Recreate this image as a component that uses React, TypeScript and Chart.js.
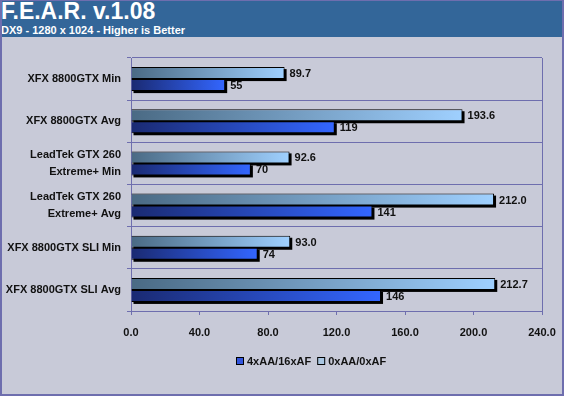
import React, { useEffect, useRef } from "react";
import { Chart, registerables } from "chart.js";

Chart.register(...registerables);

const categories: (string | string[])[] = [
  "XFX 8800GTX Min",
  "XFX 8800GTX Avg",
  ["LeadTek GTX 260", "Extreme+ Min"],
  ["LeadTek GTX 260", "Extreme+ Avg"],
  "XFX 8800GTX SLI Min",
  "XFX 8800GTX SLI Avg",
];
const seriesNoAA = [89.7, 193.6, 92.6, 212.0, 93.0, 212.7];
const seriesAA = [55, 119, 70, 141, 74, 146];
const seriesNames = ["0xAA/0xAF", "4xAA/16xAF"];
const xTicks = [0, 40, 80, 120, 160, 200, 240];

const TITLE = "F.E.A.R. v.1.08";
const SUBTITLE = "DX9 - 1280 x 1024 - Higher is Better";

const AXIS = "#6e6eae";
const BG = "#c8cad8";
const TEXT = "#111111";
const FONT_FAMILY = "'Liberation Sans', Arial, sans-serif";
const FONT_SIZE = 11;

const LIGHT_FROM = "#4a6a84";
const LIGHT_TO = "#9fd0ff";
const DARK_FROM = "#1a2a72";
const DARK_TO = "#3366ff";

function gradientFor(from: string, to: string, fallback: string) {
  return (ctx: any) => {
    const chart = ctx.chart;
    const xs = chart.scales && chart.scales.x;
    if (!xs || ctx.type !== "data" || typeof ctx.raw !== "number") return fallback;
    const start = xs.getPixelForValue(0);
    const end = xs.getPixelForValue(ctx.raw);
    if (!isFinite(start) || !isFinite(end) || end - start < 1) return fallback;
    const g = chart.ctx.createLinearGradient(start, 0, end, 0);
    g.addColorStop(0, from);
    g.addColorStop(1, to);
    return g;
  };
}

const shadowPlugin = {
  id: "barShadow",
  beforeDatasetsDraw(chart: any) {
    const ctx = chart.ctx;
    ctx.save();
    ctx.fillStyle = "#000";
    chart.data.datasets.forEach((_: any, di: number) => {
      const meta = chart.getDatasetMeta(di);
      meta.data.forEach((el: any) => {
        const p = el.getProps(["x", "y", "base", "height"], true);
        ctx.fillRect(p.base + 2, p.y - p.height / 2 + 2, p.x - p.base, p.height);
      });
    });
    ctx.restore();
  },
};

const valueLabelPlugin = {
  id: "valueLabels",
  afterDatasetsDraw(chart: any) {
    const ctx = chart.ctx;
    ctx.save();
    ctx.font = `bold ${FONT_SIZE}px ${FONT_FAMILY}`;
    ctx.fillStyle = TEXT;
    ctx.textBaseline = "middle";
    ctx.textAlign = "left";
    chart.data.datasets.forEach((ds: any, di: number) => {
      const meta = chart.getDatasetMeta(di);
      meta.data.forEach((el: any, i: number) => {
        const v = ds.data[i];
        const txt = di === 0 ? v.toFixed(1) : String(v);
        const p = el.getProps(["x", "y"], true);
        ctx.fillText(txt, p.x + 5, p.y + 1);
      });
    });
    ctx.restore();
  },
};

const legendPlugin = {
  id: "customLegend",
  afterDraw(chart: any) {
    const ctx = chart.ctx;
    ctx.save();
    ctx.font = `bold ${FONT_SIZE}px ${FONT_FAMILY}`;
    ctx.textBaseline = "middle";
    const items = [
      { label: seriesNames[1], solid: "#3355dd" },
      { label: seriesNames[0], solid: "#a9c6e2" },
    ];
    const box = 8;
    const gap = 3;
    const itemGap = 6;
    const widths = items.map((it) => ctx.measureText(it.label).width);
    const total = items.length * (box + gap) + widths.reduce((a, b) => a + b, 0) + itemGap;
    const cx = 311;
    const cy = chart.chartArea.bottom + 50;
    let x = Math.round(cx - total / 2);
    items.forEach((it, i) => {
      ctx.fillStyle = it.solid;
      ctx.fillRect(x, cy - box / 2, box, box);
      ctx.strokeStyle = "#000";
      ctx.lineWidth = 1;
      ctx.strokeRect(x + 0.5, cy - box / 2 + 0.5, box - 1, box - 1);
      ctx.fillStyle = TEXT;
      ctx.fillText(it.label, x + box + gap, cy + 1);
      x += box + gap + widths[i] + itemGap;
    });
    ctx.restore();
  },
};

export default function App() {
  const canvasRef = useRef<HTMLCanvasElement | null>(null);

  useEffect(() => {
    document.body.style.margin = "0";
    const canvas = canvasRef.current;
    if (!canvas) return;
    const chart = new Chart(canvas, {
      type: "bar",
      data: {
        labels: categories,
        datasets: [
          {
            label: seriesNames[0],
            data: seriesNoAA,
            backgroundColor: gradientFor(LIGHT_FROM, LIGHT_TO, "#a9c6e2"),
            borderColor: "#000",
            borderWidth: 1,
            categoryPercentage: 0.57,
            barPercentage: 1.0,
          },
          {
            label: seriesNames[1],
            data: seriesAA,
            backgroundColor: gradientFor(DARK_FROM, DARK_TO, "#3355dd"),
            borderColor: "#000",
            borderWidth: 1,
            categoryPercentage: 0.57,
            barPercentage: 1.0,
          },
        ],
      },
      options: {
        indexAxis: "y",
        responsive: false,
        animation: false,
        layout: { padding: { top: 21, right: 22, left: 0, bottom: 0 } },
        plugins: {
          legend: { display: false },
          tooltip: { enabled: false },
          title: { display: false },
        },
        scales: {
          x: {
            min: xTicks[0],
            max: xTicks[xTicks.length - 1],
            afterBuildTicks: (scale: any) => {
              scale.ticks = xTicks.map((v) => ({ value: v }));
            },
            afterFit: (scale: any) => {
              scale.height = 83;
              scale.paddingLeft = 0;
              scale.paddingRight = 0;
            },
            grid: {
              color: (c: any) => (c.tick && c.tick.value === 240 ? AXIS : "rgba(0,0,0,0)"),
              tickColor: AXIS,
              tickLength: 4,
              lineWidth: 1,
            },
            border: { display: true, color: AXIS, width: 1 },
            ticks: {
              color: TEXT,
              padding: 11,
              font: { family: FONT_FAMILY, weight: "bold", size: FONT_SIZE },
              callback: (v: any) => Number(v).toFixed(1),
              maxRotation: 0,
            },
          },
          y: {
            afterFit: (scale: any) => {
              scale.width = 131;
              scale.paddingTop = 0;
              scale.paddingBottom = 0;
            },
            grid: {
              color: AXIS,
              tickColor: AXIS,
              tickLength: 4,
              lineWidth: 1,
              offset: true,
            },
            border: { display: true, color: AXIS, width: 1 },
            ticks: {
              color: TEXT,
              padding: 6,
              font: { family: FONT_FAMILY, weight: "bold", size: FONT_SIZE, lineHeight: 1.55 },
            },
          },
        },
      },
      plugins: [shadowPlugin, valueLabelPlugin, legendPlugin],
    } as any);
    return () => chart.destroy();
  }, []);

  return (
    <div
      style={{
        position: "fixed",
        left: 0,
        top: 0,
        width: 564,
        height: 396,
        background: BG,
        overflow: "hidden",
      }}
    >
      <div
        style={{
          position: "absolute",
          left: 0,
          top: 0,
          width: 564,
          height: 37,
          background: "#336699",
        }}
      >
        <div
          style={{
            position: "absolute",
            left: 1,
            top: 0,
            color: "#fff",
            font: "bold 23px/23px 'Liberation Sans', Arial, sans-serif",
            whiteSpace: "nowrap",
          }}
        >
          {TITLE}
        </div>
        <div
          style={{
            position: "absolute",
            left: 1,
            top: 25,
            color: "#fff",
            font: "bold 11px/11px 'Liberation Sans', Arial, sans-serif",
            whiteSpace: "nowrap",
          }}
        >
          {SUBTITLE}
        </div>
      </div>
      <canvas
        ref={canvasRef}
        width={564}
        height={357}
        style={{ position: "absolute", left: 0, top: 37, width: 564, height: 357 }}
      />
      <div
        style={{
          position: "absolute",
          left: 0,
          top: 0,
          width: 564,
          height: 396,
          boxSizing: "border-box",
          borderStyle: "solid",
          borderColor: AXIS,
          borderWidth: "1px 2px 2px 2px",
          pointerEvents: "none",
        }}
      />
    </div>
  );
}
